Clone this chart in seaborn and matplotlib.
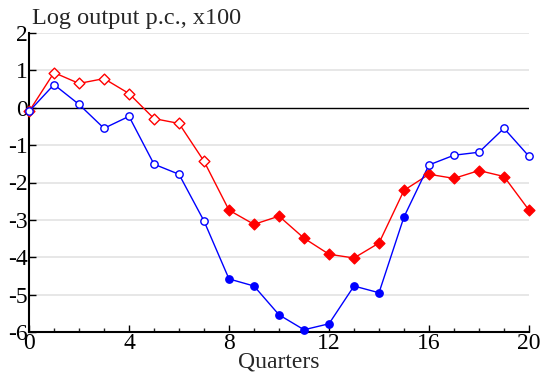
import numpy as np
import pandas as pd
import matplotlib
matplotlib.use("Agg")
import matplotlib.pyplot as plt
from matplotlib.ticker import MultipleLocator
import seaborn as sns

quarters = list(range(21))
blue_vals = [-0.10, 0.62, 0.09, -0.55, -0.23, -1.51, -1.78, -3.03, -4.58, -4.77,
             -5.54, -5.94, -5.78, -4.77, -4.95, -2.92, -1.53, -1.27, -1.19, -0.55, -1.30]
red_vals = [-0.10, 0.94, 0.65, 0.78, 0.38, -0.29, -0.42, -1.43, -2.74, -3.12,
            -2.90, -3.49, -3.92, -4.02, -3.62, -2.21, -1.78, -1.89, -1.68, -1.84, -2.74]
# quarters shown with solid markers
blue_filled = [8, 9, 10, 11, 12, 13, 14, 15]
red_filled = list(range(8, 21))

x_ticks = [0, 4, 8, 12, 16, 20]
y_ticks = [-6, -5, -4, -3, -2, -1, 0, 1, 2]
title_text = "Log output p.c., x100"
x_label = "Quarters"

sns.set_style("white")
plt.rcParams["font.family"] = ["Liberation Serif", "DejaVu Serif"]

df = pd.DataFrame({"q": quarters, "blue": blue_vals, "red": red_vals})
df["blue_solid"] = df["q"].isin(blue_filled)
df["red_solid"] = df["q"].isin(red_filled)

fig = plt.figure(figsize=(5.42, 3.83), dpi=100)
ax = fig.add_axes([29 / 542, 51 / 383, 500 / 542, 299 / 383])

for y in y_ticks:
    if y == 0:
        ax.axhline(0, color="black", lw=1.0, zorder=1)
    elif y != -6:
        ax.axhline(y, color="#e3e3e3", lw=1.2, zorder=0)

sns.lineplot(data=df, x="q", y="red", color="red", lw=1.0, ax=ax, zorder=3)
sns.lineplot(data=df, x="q", y="blue", color="blue", lw=1.0, ax=ax, zorder=3)

for col, colour, marker, size in [("red", "red", "D", 30), ("blue", "blue", "o", 28)]:
    solid = df[df[f"{col}_solid"]]
    hollow = df[~df[f"{col}_solid"]]
    sns.scatterplot(data=hollow, x="q", y=col, marker=marker, s=size,
                    facecolor="white", edgecolor=colour, linewidth=1.0,
                    ax=ax, zorder=4, clip_on=False)
    sns.scatterplot(data=solid, x="q", y=col, marker=marker, s=size,
                    color=colour, edgecolor=colour, linewidth=1.0,
                    ax=ax, zorder=4, clip_on=False)

ax.set_xlim(0, 20)
ax.set_ylim(-6, 2)
ax.set_xticks(x_ticks)
ax.xaxis.set_minor_locator(MultipleLocator(1))
ax.set_yticks(y_ticks)
ax.set_yticklabels([str(v) for v in y_ticks])
ax.tick_params(axis="both", which="major", direction="in", length=5, width=1,
               labelsize=17, pad=1, colors="black")
ax.tick_params(axis="x", which="minor", direction="in", length=3, width=1,
               bottom=True)
ax.tick_params(axis="y", left=True)
ax.tick_params(axis="x", bottom=True)

for side in ["top", "right"]:
    ax.spines[side].set_visible(False)
for side in ["left", "bottom"]:
    ax.spines[side].set_color("black")
    ax.spines[side].set_linewidth(1.5)

ax.set_xlabel(x_label, fontsize=17, labelpad=-2)
ax.set_ylabel("")
ax.text(0.005, 1.015, title_text, transform=ax.transAxes, fontsize=17.5,
        ha="left", va="bottom")

fig.savefig("out.png", dpi=100)
